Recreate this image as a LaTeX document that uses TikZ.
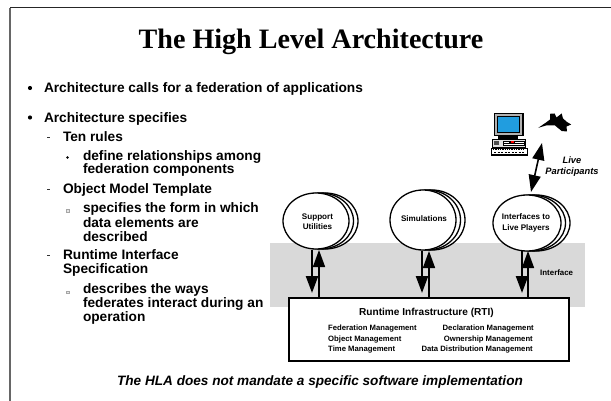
\documentclass[tikz,border=0pt]{standalone}
\usepackage{fontspec}
\setmainfont{Liberation Sans}
\newfontfamily\titlefont{Liberation Serif}
\usetikzlibrary{arrows.meta,shapes.geometric}
\tikzset{
  x=1pt,y=-1pt,
  body/.style={anchor=base west,inner sep=0pt,outer sep=0pt,font=\fontsize{13.7}{14}\selectfont\bfseries},
  service/.style={anchor=base west,inner sep=0pt,font=\fontsize{7.7}{9}\selectfont\bfseries},
  serviceright/.style={anchor=base east,inner sep=0pt,font=\fontsize{7.7}{9}\selectfont\bfseries},
  bubble/.style={draw=black,fill=white,line width=1.3pt,ellipse,inner sep=0pt,minimum width=66pt,minimum height=56pt},
  bubbletext/.style={inner sep=0pt,align=center,font=\fontsize{8.1}{10.2}\selectfont\bfseries},
  flow/.style={line width=2.2pt,-{Triangle[length=17pt,width=12pt]}},
  flowup/.style={line width=1.6pt,-{Triangle[length=17pt,width=12pt]}},
  flowtwo/.style={line width=1.6pt,{Triangle[length=17pt,width=12pt]}-{Triangle[length=17pt,width=12pt]}},
  smallbox/.style={draw=gray!70,fill=gray!20,line width=.3pt},
}
\begin{document}
\begin{tikzpicture}
\useasboundingbox (0,0) rectangle (611,401);
\fill[white] (0,0) rectangle (611,401);
% frame
\draw[line width=1pt,black!85] (10,8) -- (611,8);
\draw[line width=1.3pt,black!60] (10,8) -- (10,401);
% title
\node[anchor=base,inner sep=0pt,font=\titlefont\fontsize{28.1}{30}\selectfont\bfseries] (title) at (311,48.5) {The High Level Architecture};
% bullets
\node[body] (b1) at (44,92.5) {Architecture calls for a federation of applications};
\node[body] (b2) at (44,122.5) {Architecture specifies};
\node[body] (c1) at (63,141.5) {Ten rules};
\node[body] (d1) at (83,160.5) {define relationships among};
\node[body] (d1b) at (83,174) {federation components};
\node[body] (c2) at (63,193.5) {Object Model Template};
\node[body] (d2) at (83,212) {specifies the form in which};
\node[body] (d2b) at (83,227.5) {data elements are};
\node[body] (d2c) at (83,241.5) {described};
\node[body] (c3) at (63,259.5) {Runtime Interface};
\node[body] (c3b) at (63,273.5) {Specification};
\node[body] (d3) at (83,293.5) {describes the ways};
\node[body] (d3b) at (83,307.5) {federates interact during an};
\node[body] (d3c) at (83,321.5) {operation};
% bullet marks
\fill (30,88) circle (2.1);
\fill (30,117.5) circle (2.1);
\fill[black!80] (46.5,136.7) rectangle (50,137.9);
\fill[black!80] (46.5,189) rectangle (50,190.2);
\fill[black!80] (46.5,255) rectangle (50,256.2);
\fill (67.5,157.5) circle (1.3);
\draw[smallbox] (65.8,209.5) rectangle (68.8,212);
\draw[smallbox] (65.8,291) rectangle (68.8,293.5);
% footer
\node[inner sep=0pt,anchor=base,font=\fontsize{13.6}{15}\selectfont\bfseries\itshape] (foot) at (320,385.5) {The HLA does not mandate a specific software implementation};
% interface band
\fill[black!15] (270,243) rectangle (585,307);
% back ellipses and front ellipses
\foreach \dx in {9,4.5}{
  \node[bubble] at ({316+\dx},221) {};
  \node[bubble,minimum height=60pt,minimum width=66pt] at ({423+\dx},220) {};
  \node[bubble,minimum width=68pt] at ({527+\dx},223) {};
}
\node[bubble] (su) at (316,221) {};
\node[bubble,minimum height=60pt] (si) at (423,220) {};
\node[bubble,minimum width=68pt] (li) at (527,223) {};
\node[bubbletext] (sutext) at (317.5,222) {Support\\Utilities};
\node[bubbletext] (sitext) at (424,219) {Simulations};
\node[bubbletext] (litext) at (526,223) {Interfaces to\\Live Players};
% RTI box
\node[draw=black,fill=white,line width=1.5pt,inner sep=0pt,minimum width=280pt,minimum height=63pt] (rti) at (429,329.5) {};
\node[inner sep=0pt,anchor=base,font=\fontsize{10.1}{12}\selectfont\bfseries] (rtitext) at (426.5,315.5) {Runtime Infrastructure (RTI)};
\node[service] (s1) at (328,330) {Federation Management};
\node[service] (s2) at (328,341) {Object Management};
\node[service] (s3) at (328,351) {Time Management};
\node[serviceright] (s4) at (534,330) {Declaration Management};
\node[serviceright] (s5) at (533,341) {Ownership Management};
\node[serviceright] (s6) at (533,351) {Data Distribution Management};
% connector ends
\coordinate (suout) at (312,249.5);
\coordinate (suin) at (312,293);
\coordinate (rtiA) at (319,298);
\coordinate (suA) at (319,250);
\coordinate (siout) at (422,250.5);
\coordinate (siin) at (422,293);
\coordinate (rtiB) at (429,298);
\coordinate (siA) at (429,251);
\coordinate (liout) at (522,251);
\coordinate (liin) at (522,293);
\coordinate (rtiC) at (528,298);
\coordinate (liA) at (528,251);
\coordinate (lpA) at (531,192);
\coordinate (lpB) at (542,143);
\draw[flow] (suout) -- (suin);
\draw[flowup] (rtiA) -- (suA);
\draw[flow] (siout) -- (siin);
\draw[flowup] (rtiB) -- (siA);
\draw[flow] (liout) -- (liin);
\draw[flowup] (rtiC) -- (liA);
\draw[flowtwo] (lpA) -- (lpB);
% labels
\node[inner sep=0pt,anchor=base west,font=\fontsize{7.9}{9}\selectfont\bfseries] (iface) at (540,276) {Interface};
\node[inner sep=0pt,align=center,font=\fontsize{9.3}{11}\selectfont\bfseries\itshape] (live) at (572,166.5) {Live\\Participants};
% computer
\fill[black] (493.5,113) rectangle (523.5,136.5);
\fill[black!30] (494.7,114.3) rectangle (522.3,135.2);
\fill[black] (497.3,116.3) rectangle (520.3,133);
\fill[cyan!80!blue!90] (498.2,117.2) rectangle (519.4,132);
\fill[black] (498,136.5) rectangle (518,139);
\draw[black,line width=.6pt,fill=black!12] (492.5,139.5) rectangle (525.5,147.5);
\fill[black] (503,141) rectangle (525,146);
\fill[white] (504,142) rectangle (509,143);
\fill[red] (511,140.8) rectangle (513.5,143.2);
\fill[white] (515,142) rectangle (524,143);
\fill[white] (504,144.3) rectangle (524,145);
\fill[black!70] (494,141) rectangle (499,145);
\draw[black,line width=.6pt,fill=white] (491,148) rectangle (527,155);
\draw[black,line width=1pt,dash pattern=on 1.3pt off 1pt] (493,150) -- (525,150);
\draw[black,line width=.8pt,dash pattern=on 2pt off 1.5pt] (494,152.3) -- (524,152.3);
\fill[black] (490.5,154) rectangle (527.5,155.5);
% jet
\fill[black] (538.3,127.8) -- (546,122.5) -- (550,119.5) -- (550,113.8) -- (554.5,113.5) -- (556.5,117.5) -- (561.7,113.5) -- (563,118.5) -- (567,122) -- (571.2,124.5) -- (566.5,126.5) -- (567,131.5) -- (561.7,131) -- (555,125.5) -- (546.7,125.3) -- cycle;
\end{tikzpicture}
\end{document}
